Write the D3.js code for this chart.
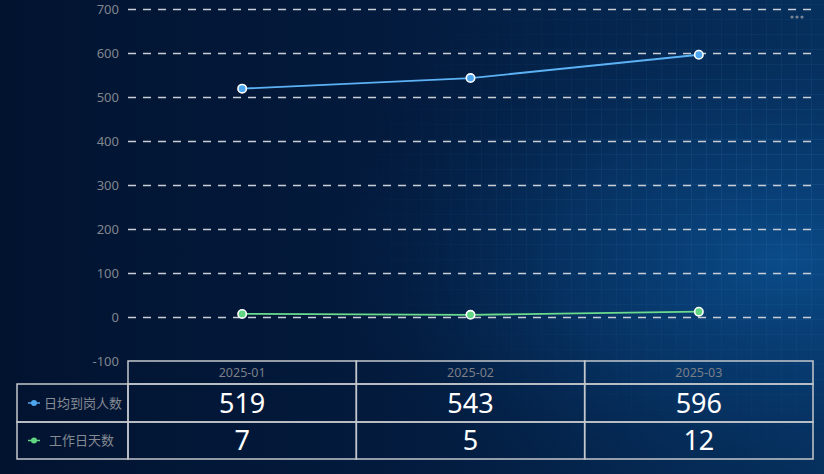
<!DOCTYPE html>
<html><head><meta charset="utf-8">
<script src="https://cdn.jsdelivr.net/npm/d3@7/dist/d3.min.js"></script>
<style>
html,body{margin:0;padding:0;background:#021430;}
svg{display:block;}
</style></head>
<body><svg id="c" width="824" height="474"></svg>
<script>
const categories = ["2025-01","2025-02","2025-03"];
const seriesNames = ["日均到岗人数","工作日天数"];
const dailyStaff = [519,543,596];
const workDays = [7,5,12];
const yTicks = [-100,0,100,200,300,400,500,600,700];
const seriesColors = ["#4ea6ee","#62d583"];
const lineColors = ["#5cb2f4","#6bdc8e"];

const W=824,H=474;
const svg=d3.select("#c");
const defs=svg.append("defs");

// background
const bg=defs.append("linearGradient").attr("id","bg").attr("x1","0").attr("x2","1").attr("y1","0").attr("y2","0");
bg.append("stop").attr("offset","0").attr("stop-color","#021330");
bg.append("stop").attr("offset","0.5").attr("stop-color","#031b3e");
bg.append("stop").attr("offset","1").attr("stop-color","#06305e");
svg.append("rect").attr("width",W).attr("height",H).attr("fill","url(#bg)");

const glow=defs.append("radialGradient").attr("id","glow").attr("cx","0.95").attr("cy","0.55").attr("r","0.55");
glow.append("stop").attr("offset","0").attr("stop-color","#0b4f8e").attr("stop-opacity","0.9");
glow.append("stop").attr("offset","0.5").attr("stop-color","#083f77").attr("stop-opacity","0.5");
glow.append("stop").attr("offset","1").attr("stop-color","#04264f").attr("stop-opacity","0");
svg.append("rect").attr("width",W).attr("height",H).attr("fill","url(#glow)");

// grid pattern
const pat=defs.append("pattern").attr("id","gridp").attr("width",15).attr("height",15).attr("patternUnits","userSpaceOnUse").attr("x",2).attr("y",5);
pat.append("path").attr("d","M15 0V15M0 15H15").attr("stroke","#2a6aa5").attr("stroke-width",1).attr("fill","none");
const gm=defs.append("radialGradient").attr("id","gm").attr("cx","0.98").attr("cy","0.4").attr("r","0.6");
gm.append("stop").attr("offset","0").attr("stop-color","#fff").attr("stop-opacity","0.55");
gm.append("stop").attr("offset","0.5").attr("stop-color","#fff").attr("stop-opacity","0.25");
gm.append("stop").attr("offset","1").attr("stop-color","#fff").attr("stop-opacity","0");
const mask=defs.append("mask").attr("id","gmask");
mask.append("rect").attr("width",W).attr("height",H).attr("fill","url(#gm)");
svg.append("rect").attr("width",W).attr("height",H).attr("fill","url(#gridp)").attr("mask","url(#gmask)");

// scales
const x=d3.scaleBand().domain(categories).range([128,813]);
const y=d3.scaleLinear().domain([-100,700]).range([361,9]);

const font="'Noto Sans','Noto Sans CJK SC',sans-serif";

// grid lines
const yAxis=d3.axisLeft(y).tickValues(yTicks).tickSize(-(813-128)).tickPadding(6).tickFormat(d=>String(d));
const ga=svg.append("g").attr("transform","translate(128,0)").call(yAxis);
ga.select(".domain").remove();
ga.selectAll(".tick line").attr("stroke","#c9ced6").attr("stroke-width",1.3).attr("stroke-dasharray","8,7").attr("x2",812-128);
ga.selectAll(".tick").filter(d=>d===-100).select("line").remove();
ga.selectAll(".tick text").attr("fill","#80858e").attr("font-size",13).attr("font-family",font).attr("x",-9);

// lines
const series=[dailyStaff,workDays];
series.forEach((vals,i)=>{
  const line=d3.line().x((d,j)=>x(categories[j])+x.bandwidth()/2).y(d=>y(d));
  svg.append("path").datum(vals).attr("d",line).attr("fill","none").attr("stroke",lineColors[i]).attr("stroke-width",1.8);
  svg.selectAll(null).data(vals).enter().append("circle")
    .attr("cx",(d,j)=>x(categories[j])+x.bandwidth()/2).attr("cy",d=>y(d)).attr("r",4.2)
    .attr("fill",seriesColors[i]).attr("stroke","#fff").attr("stroke-width",1.6);
});

// table
const tb=svg.append("g");
const rowY=[361,384,422,459];
const borderC="#c4c7cc";
categories.forEach(c=>{
  tb.append("rect").attr("x",x(c)).attr("y",rowY[0]).attr("width",x.bandwidth()).attr("height",rowY[1]-rowY[0]).attr("fill","none").attr("stroke",borderC).attr("stroke-width",1.5);
  tb.append("text").attr("x",x(c)+x.bandwidth()/2).attr("y",(rowY[0]+rowY[1])/2+4.5).attr("text-anchor","middle")
    .attr("fill","#7a7f88").attr("font-size",12.5).attr("font-family",font).text(c);
});
series.forEach((vals,i)=>{
  const y0=rowY[i+1],y1=rowY[i+2];
  tb.append("rect").attr("x",17).attr("y",y0).attr("width",128-17).attr("height",y1-y0).attr("fill","none").attr("stroke",borderC).attr("stroke-width",1.5);
  const ly=(y0+y1)/2;
  tb.append("line").attr("x1",28).attr("x2",40).attr("y1",ly).attr("y2",ly).attr("stroke",seriesColors[i]).attr("stroke-width",1.5);
  tb.append("circle").attr("cx",34).attr("cy",ly).attr("r",3).attr("fill",seriesColors[i]);
  tb.append("text").attr("x",i===0?44:49).attr("y",ly+4.5).attr("fill","#858a93").attr("font-size",13).attr("font-family",font).text(seriesNames[i]);
  vals.forEach((v,j)=>{
    const c=categories[j];
    tb.append("rect").attr("x",x(c)).attr("y",y0).attr("width",x.bandwidth()).attr("height",y1-y0).attr("fill","none").attr("stroke",borderC).attr("stroke-width",1.5);
    tb.append("text").attr("x",x(c)+x.bandwidth()/2).attr("y",ly+9.5).attr("text-anchor","middle")
      .attr("fill","#ffffff").attr("font-size",27).attr("font-family",font).text(v);
  });
});

// more icon
[792,797,802].forEach(cx=>svg.append("circle").attr("cx",cx).attr("cy",17).attr("r",1.6).attr("fill","#7a8594"));
</script></body></html>
